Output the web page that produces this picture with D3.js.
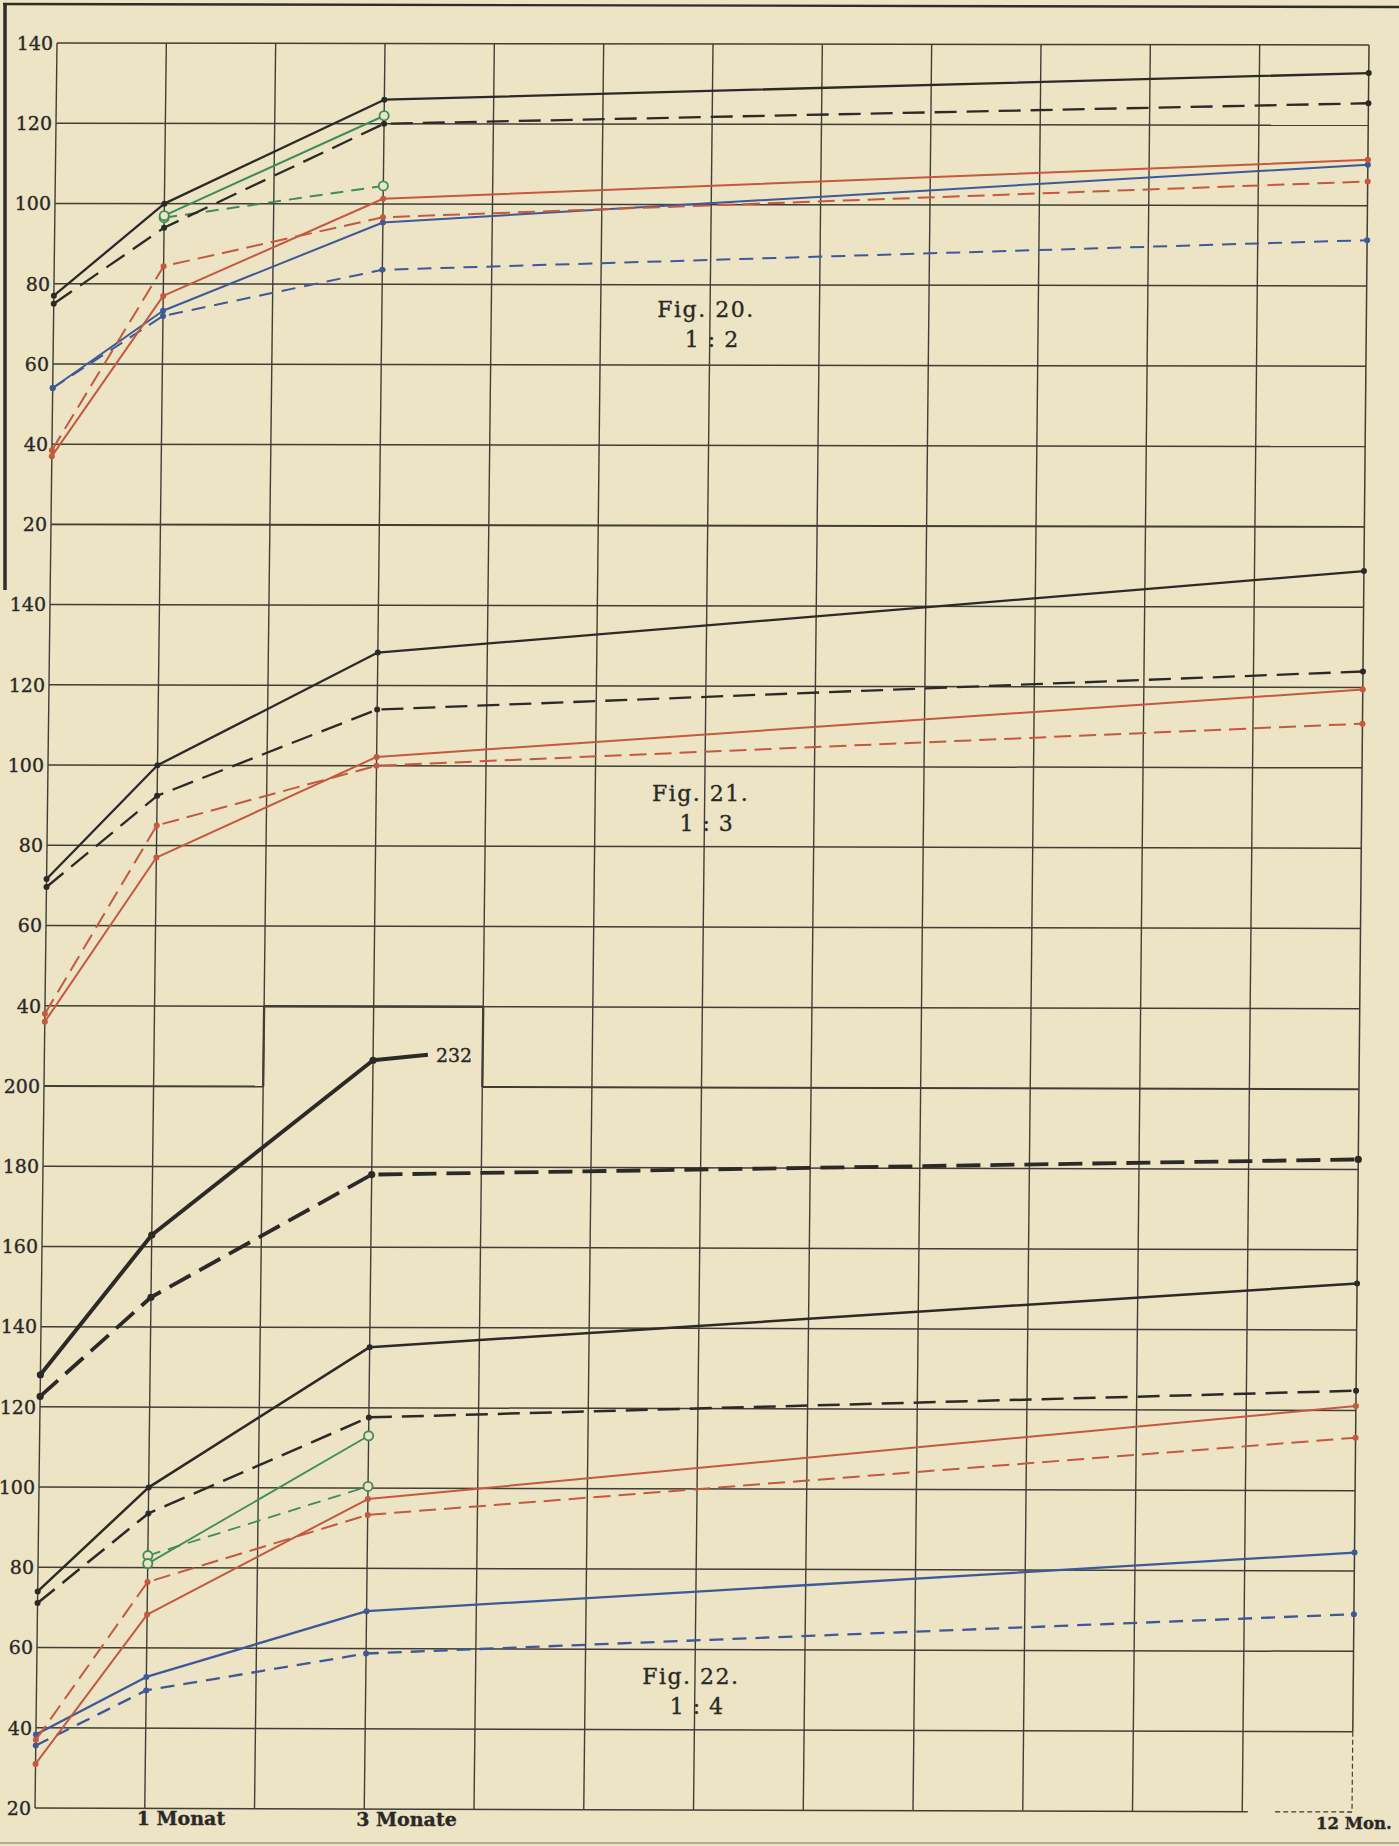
<!DOCTYPE html>
<html>
<head>
<meta charset="utf-8">
<script src="https://cdn.jsdelivr.net/npm/d3@7"></script>
<style>
  html, body { margin: 0; padding: 0; background: #ece4c5; }
  svg { display: block; }
  text { font-family: "DejaVu Serif", "Liberation Serif", serif; fill: #2a2925; stroke: #2a2925; stroke-width: 0.35; }
</style>
</head>
<body>
<svg id="chart" width="1399" height="1846"></svg>
<script>
// Measurement months on the time axis
const months = [0, 1, 3, 12];
const monthTicks = [1, 3, 12];
const monthLabels = ["1 Monat", "3 Monate", "12 Mon."];

// Fig. 20 — 1 : 2
const f20Ticks = [140, 120, 100, 80, 60, 40, 20];
const f20BlackSolid  = [77, 100, 126, 133];
const f20BlackDashed = [75, 94, 120, 125.5];
const f20GreenSolid  = [null, 97, 122, null];
const f20GreenDashed = [null, 96.5, 104.5, null];
const f20RedSolid    = [37, 77, 101.3, 111.4];
const f20RedDashed   = [38.5, 84.4, 96.7, 106];
const f20BlueSolid   = [54, 73.3, 95.4, 110.2];
const f20BlueDashed  = [54, 72, 83.6, 91.4];

// Fig. 21 — 1 : 3
const f21Ticks = [140, 120, 100, 80, 60, 40];
const f21BlackSolid  = [71.6, 100, 128.2, 149];
const f21BlackDashed = [69.6, 92.4, 114, 124];
const f21RedSolid    = [36, 77, 102.2, 119.5];
const f21RedDashed   = [38, 85, 100, 111];

// Fig. 22 — 1 : 4
const f22Ticks = [200, 180, 160, 140, 120, 100, 80, 60, 40, 20];
const f22HeavySolid  = [128, 162.9, 206.6, 232];   // last value runs off the sheet
const f22HeavyDashed = [122.6, 147.4, 178.1, 182.5];
const f22BlackSolid  = [74, 100, 135.1, 151.6];
const f22BlackDashed = [71.1, 93.5, 117.6, 124.9];
const f22GreenSolid  = [null, 81, 113, null];
const f22GreenDashed = [null, 83, 100.4, null];
const f22RedSolid    = [31, 68.3, 97.25, 121.1];
const f22RedDashed   = [37, 76.4, 93.3, 113.2];
const f22BlueSolid   = [38.3, 52.75, 69.3, 84.6];
const f22BlueDashed  = [35.6, 49.4, 58.75, 69.25];
const f22HeavyCutMonth = 3.5;   // the off-scale segment is only started, then labelled

const figTitles = ["Fig. 20.", "Fig. 21.", "Fig. 22."];
const figRatios = ["1 : 2", "1 : 3", "1 : 4"];
const figTitleValues = [72, 91.5, 51.5];
const figTitleMonth = 6;

// ---------------------------------------------------------------
const svg = d3.select("#chart");
const INK = "#2b2a26", GRID = "#413e36";
const RED = "#c5583d", BLUE = "#3e5898", GREEN = "#3f8c5a";

// unit scales over the ruled sheet: 12 month columns, 22 rows
const xScale = d3.scaleLinear().domain([0, 12]).range([0, 1]);
const rowScale = d3.scaleLinear().domain([0, 22]).range([0, 1]);
const yF20 = d3.scaleLinear().domain([140, 20]).range([rowScale(0), rowScale(6)]);
const yF21 = d3.scaleLinear().domain([140, 20]).range([rowScale(7), rowScale(13)]);
const yF22 = d3.scaleLinear().domain([200, 20]).range([rowScale(13), rowScale(22)]);

// the printed sheet sits slightly askew: map unit square onto its four corners
const TL = [57, 43], TR = [1369, 45], BL = [35, 1808], BR = [1352, 1812];
function warp(u, v) {
  const a = (1 - u) * (1 - v), b = u * (1 - v), c = (1 - u) * v, d = u * v;
  return [a * TL[0] + b * TR[0] + c * BL[0] + d * BR[0],
          a * TL[1] + b * TR[1] + c * BL[1] + d * BR[1]];
}
const at = (m, v01) => warp(xScale(m), v01);
const line = d3.line();

// paper frame
svg.append("rect").attr("width", 1399).attr("height", 1846).attr("fill", "#ece4c5");
svg.append("line").attr("x1", 3).attr("y1", 4).attr("x2", 1399).attr("y2", 7)
  .attr("stroke", "#2f2d29").attr("stroke-width", 2.4);
svg.append("line").attr("x1", 5).attr("y1", 4).attr("x2", 5).attr("y2", 590)
  .attr("stroke", "#2f2d29").attr("stroke-width", 3.5);
svg.append("line").attr("x1", 0).attr("y1", 1843).attr("x2", 1399).attr("y2", 1843)
  .attr("stroke", "#b5ad90").attr("stroke-width", 2);

// ruled grid
const grid = svg.append("g").attr("fill", "none").attr("stroke", GRID);
function hRule(row, m0, m1, w, dash) {
  grid.append("path")
    .attr("d", line([at(m0, rowScale(row)), at(m1, rowScale(row))]))
    .attr("stroke-width", w).attr("stroke-dasharray", dash || null);
}
function vRule(m, r0, r1, w, dash) {
  grid.append("path")
    .attr("d", line([at(m, rowScale(r0)), at(m, rowScale(r1))]))
    .attr("stroke-width", w).attr("stroke-dasharray", dash || null);
}
d3.range(0, 23).forEach(r => {
  if (r === 13) { hRule(r, 0, 2, 2); hRule(r, 4, 12, 2); }
  else if (r === 22) { hRule(r, 0, 11.05, 1.5); hRule(r, 11.3, 12, 1.3, "5,3"); }
  else hRule(r, 0, 12, r === 6 ? 1.8 : 1.5);
});
d3.range(0, 13).forEach(m => {
  if (m === 12) { vRule(m, 0, 21, 1.5); vRule(m, 21, 22, 1.2, "5,3"); }
  else vRule(m, 0, 22, 1.4);
});
// inset frame for the off-scale curve
vRule(2, 12, 13, 2.3); vRule(4, 12, 13, 2.3); hRule(12, 2, 4, 2.3);

// value labels on the left edge
const tickFont = 19;
function yTicks(ticks, yScale) {
  svg.append("g").selectAll("text").data(ticks).join("text")
    .attr("x", d => at(0, yScale(d))[0] - 4)
    .attr("y", d => at(0, yScale(d))[1])
    .attr("dy", "0.36em")
    .attr("text-anchor", "end")
    .attr("font-size", tickFont)
    .text(d => d);
}
yTicks(f20Ticks, yF20);
yTicks(f21Ticks, yF21);
yTicks(f22Ticks, yF22);

// month labels under the sheet
const lastTick = monthTicks.length - 1;
svg.append("g").selectAll("text").data(monthTicks).join("text")
  .attr("x", (d, i) => at(d, 1)[0] + (i === lastTick ? -36 : -8))
  .attr("y", d => at(d, 1)[1] + 17)
  .attr("font-size", (d, i) => i === lastTick ? 16.5 : 19)
  .attr("font-weight", "bold")
  .text((d, i) => monthLabels[i]);

// curves
const seriesStyles = [
  { v: f20BlueDashed,  y: yF20, c: BLUE,  w: 2,   dash: "14,9" },
  { v: f20BlueSolid,   y: yF20, c: BLUE,  w: 2 },
  { v: f20RedDashed,   y: yF20, c: RED,   w: 2,   dash: "17,8" },
  { v: f20RedSolid,    y: yF20, c: RED,   w: 2 },
  { v: f20GreenDashed, y: yF20, c: GREEN, w: 2,   dash: "13,8", ring: true },
  { v: f20GreenSolid,  y: yF20, c: GREEN, w: 2,   ring: true },
  { v: f20BlackDashed, y: yF20, c: INK,   w: 2.3, dash: "22,10" },
  { v: f20BlackSolid,  y: yF20, c: INK,   w: 2.3 },

  { v: f21RedDashed,   y: yF21, c: RED,   w: 2,   dash: "17,8" },
  { v: f21RedSolid,    y: yF21, c: RED,   w: 2 },
  { v: f21BlackDashed, y: yF21, c: INK,   w: 2.3, dash: "22,10" },
  { v: f21BlackSolid,  y: yF21, c: INK,   w: 2.3 },

  { v: f22BlueDashed,  y: yF22, c: BLUE,  w: 2.3, dash: "14,9" },
  { v: f22BlueSolid,   y: yF22, c: BLUE,  w: 2.3 },
  { v: f22RedDashed,   y: yF22, c: RED,   w: 2,   dash: "17,8" },
  { v: f22RedSolid,    y: yF22, c: RED,   w: 2 },
  { v: f22GreenDashed, y: yF22, c: GREEN, w: 1.8, dash: "13,8", ring: true },
  { v: f22GreenSolid,  y: yF22, c: GREEN, w: 1.8, ring: true },
  { v: f22BlackDashed, y: yF22, c: INK,   w: 2.5, dash: "22,10" },
  { v: f22BlackSolid,  y: yF22, c: INK,   w: 2.5 },
  { v: f22HeavyDashed, y: yF22, c: INK,   w: 3.8, dash: "24,10" },
  { v: f22HeavySolid,  y: yF22, c: INK,   w: 4, cut: f22HeavyCutMonth, label: true }
];

const curves = svg.append("g");
seriesStyles.forEach(s => {
  let pts = months.map((m, i) => ({ m, val: s.v[i] })).filter(d => d.val != null);
  let marks = pts.slice();
  if (s.cut != null) {
    // keep only the start of the off-scale segment
    const k = pts.findIndex(d => d.m > s.cut);
    const a = pts[k - 1], b = pts[k];
    const cutVal = a.val + (b.val - a.val) * (s.cut - a.m) / (b.m - a.m);
    pts = pts.slice(0, k).concat([{ m: s.cut, val: cutVal }]);
    marks = pts.slice(0, k);
  }
  const xy = pts.map(d => at(d.m, s.y(d.val)));
  curves.append("path")
    .attr("d", line(xy))
    .attr("fill", "none")
    .attr("stroke", s.c)
    .attr("stroke-width", s.w)
    .attr("stroke-dasharray", s.dash || null)
    .attr("stroke-linejoin", "round");
  curves.append("g").selectAll("circle").data(marks).join("circle")
    .attr("cx", d => at(d.m, s.y(d.val))[0])
    .attr("cy", d => at(d.m, s.y(d.val))[1])
    .attr("r", s.ring ? 4.6 : (s.w > 3 ? 3.6 : 3))
    .attr("fill", s.ring ? "#ece4c5" : s.c)
    .attr("stroke", s.ring ? s.c : "none")
    .attr("stroke-width", 1.8);
  if (s.label) {
    const last = s.v[s.v.length - 1];
    const end = xy[xy.length - 1];
    curves.append("text")
      .attr("x", end[0] + 8).attr("y", end[1] + 7)
      .attr("font-size", tickFont)
      .text(last);
  }
});

// figure captions
const yScales = [yF20, yF21, yF22];
figTitles.forEach((t, i) => {
  const p = at(figTitleMonth, yScales[i](figTitleValues[i]));
  svg.append("text").attr("x", p[0] - 4).attr("y", p[1])
    .attr("text-anchor", "middle").attr("font-size", 22).attr("letter-spacing", 1.5)
    .text(t);
  svg.append("text").attr("x", p[0] + 2).attr("y", p[1] + 30)
    .attr("text-anchor", "middle").attr("font-size", 22).attr("letter-spacing", 1)
    .text(figRatios[i]);
});
</script>
</body>
</html>
